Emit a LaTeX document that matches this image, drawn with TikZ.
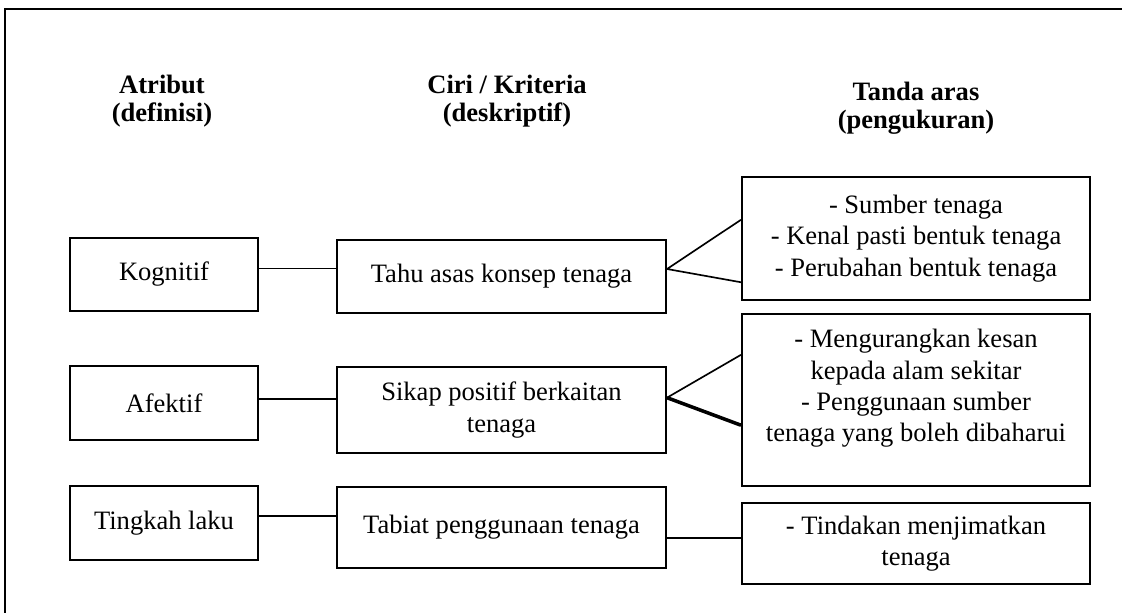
\documentclass[tikz,border=0pt]{standalone}
\usepackage{fontspec}
\setmainfont{Liberation Serif}
\usetikzlibrary{calc}

\begin{document}
\begin{tikzpicture}[
    x=0.452pt, y=-0.452pt,
    font=\fontsize{12}{14.2}\selectfont,
    box/.style={draw=black, line width=0.9pt, align=center, inner sep=2pt},
    attr/.style={box, minimum width=85pt, minimum height=33.4pt},
    crit/.style={box, minimum width=148.7pt},
    gauge/.style={box, minimum width=157.3pt},
    head/.style={align=center, font=\fontsize{12}{12.5}\selectfont\bfseries},
    link/.style={draw=black, line width=0.75pt}
]
\useasboundingbox (0,0) rectangle (1122,612);
\begin{scope}
\clip (0,0) rectangle (1122,612);
\draw[line width=0.9pt] (5,630) -- (5,9) -- (1140,9);
\end{scope}

\node[head] (hattr) at (162,101) {Atribut\\(definisi)};
\node[head] (hcrit) at (507,101) {Ciri / Kriteria\\(deskriptif)};
\node[head] (hgauge) at (916,108) {Tanda aras\\(pengukuran)};

\node[attr, minimum height=33pt] (kog) at (164,274.5) {Kognitif};
\node[attr] (afe) at (164,403) {Afektif};
\node[attr] (ting) at (164,523) {Tingkah laku};

\node[crit, minimum height=33pt] (tahu) at (501.5,276.5) {Tahu asas konsep tenaga};
\node[crit, minimum height=38.9pt] (sikap) at (501.5,410) {Sikap positif berkaitan\\tenaga};
\node[crit, minimum height=37pt] (tabiat) at (501.5,527.5) {Tabiat penggunaan tenaga};

\node[gauge, minimum height=55.6pt] (g1) at (916,238.5) {- Sumber tenaga\\- Kenal pasti bentuk tenaga\\- Perubahan bentuk tenaga};
\node[gauge, minimum height=77.7pt, text depth=13pt] (g2) at (916,400) {- Mengurangkan kesan\\kepada alam sekitar\\- Penggunaan sumber\\tenaga yang boleh dibaharui};
\node[gauge, minimum height=36.6pt] (g3) at (916,543.5) {- Tindakan menjimatkan\\tenaga};

% atribut ke ciri
\coordinate (c1) at ($(kog.north east)!0.42!(kog.south east)$);
\coordinate (c2) at ($(afe.north east)!0.45!(afe.south east)$);
\coordinate (c3) at ($(ting.north east)!0.41!(ting.south east)$);
\draw[link] (c1) -- (c1 -| tahu.west);
\draw[link] (c2) -- (c2 -| sikap.west);
\draw[link] (c3) -- (c3 -| tabiat.west);

% ciri ke tanda aras
\coordinate (f1) at ($(tahu.north east)!0.4!(tahu.south east)$);
\coordinate (f2) at ($(sikap.north east)!0.36!(sikap.south east)$);
\draw[link] ($(g1.north west)!0.35!(g1.south west)$) -- (f1) -- ($(g1.north west)!0.85!(g1.south west)$);
\draw[link] ($(g2.north west)!0.24!(g2.south west)$) -- (f2);
\draw[link, line width=1.6pt] (f2) -- ($(g2.north west)!0.645!(g2.south west)$);
\coordinate (f3) at ($(g3.north west)!0.43!(g3.south west)$);
\draw[link] (f3 -| tabiat.east) -- (f3);
\end{tikzpicture}
\end{document}
